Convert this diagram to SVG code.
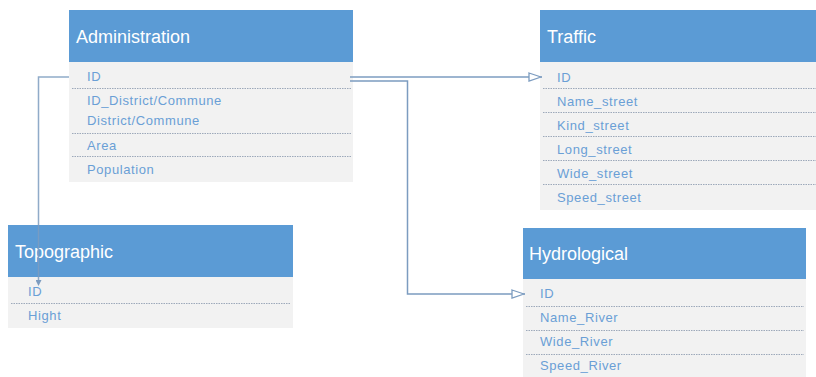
<svg xmlns="http://www.w3.org/2000/svg" width="816" height="377" viewBox="0 0 816 377">
<defs>
<style>
.hdr{fill:#5B9BD5}
.body{fill:#F2F2F2}
.ht{font-family:"Liberation Sans",Arial,sans-serif;font-size:18px;fill:#FFFFFF}
.rt{font-family:"Liberation Sans",Arial,sans-serif;font-size:13px;fill:#6A9FD6;letter-spacing:0.6px}
.sep{stroke:#9DA9BA;stroke-width:1;stroke-dasharray:1.5 1}
.conn{fill:none;stroke:#7C9CC0;stroke-width:1.5}
</style>
<marker id="open" viewBox="0 0 14 10" refX="14" refY="5" markerWidth="14" markerHeight="10" markerUnits="userSpaceOnUse" orient="auto">
<path d="M1,1 L13,5 L1,9 Z" fill="#FFFFFF" stroke="#7C9CC0" stroke-width="1.3"/>
</marker>
<marker id="small" viewBox="0 0 6 6" refX="3" refY="3" markerWidth="6" markerHeight="6" markerUnits="userSpaceOnUse" orient="auto">
<path d="M0,0 L6,3 L0,6 Z" fill="#7C9CC0"/>
</marker>
</defs>
<rect width="816" height="377" fill="#FFFFFF"/>
<g id="administration">
<rect class="body" x="69" y="62" width="284" height="120"/>
<rect class="hdr" x="69" y="10" width="284" height="52"/>
<text class="ht" x="76" y="43">Administration</text>
<text class="rt" x="87" y="81">ID</text>
<line class="sep" x1="72" y1="88.5" x2="351" y2="88.5"/>
<text class="rt" x="87" y="105">ID_District/Commune</text>
<text class="rt" x="87" y="125">District/Commune</text>
<line class="sep" x1="72" y1="133.5" x2="351" y2="133.5"/>
<text class="rt" x="87" y="150">Area</text>
<line class="sep" x1="72" y1="156.5" x2="351" y2="156.5"/>
<text class="rt" x="87" y="174">Population</text>
</g>
<g id="traffic">
<rect class="body" x="540" y="62" width="276" height="148"/>
<rect class="hdr" x="540" y="10" width="276" height="52"/>
<text class="ht" x="547" y="43">Traffic</text>
<text class="rt" x="557" y="82">ID</text>
<line class="sep" x1="543" y1="88.5" x2="816" y2="88.5"/>
<text class="rt" x="557" y="106">Name_street</text>
<line class="sep" x1="543" y1="112.5" x2="816" y2="112.5"/>
<text class="rt" x="557" y="130">Kind_street</text>
<line class="sep" x1="543" y1="136.5" x2="816" y2="136.5"/>
<text class="rt" x="557" y="154">Long_street</text>
<line class="sep" x1="543" y1="160.5" x2="816" y2="160.5"/>
<text class="rt" x="557" y="178">Wide_street</text>
<line class="sep" x1="543" y1="184.5" x2="816" y2="184.5"/>
<text class="rt" x="557" y="202">Speed_street</text>
</g>
<g id="topographic">
<rect class="body" x="8" y="277" width="285" height="51"/>
<rect class="hdr" x="8" y="225" width="285" height="52"/>
<text class="ht" x="15" y="258">Topographic</text>
<text class="rt" x="28" y="296">ID</text>
<line class="sep" x1="11" y1="303.5" x2="291" y2="303.5"/>
<text class="rt" x="28" y="320">Hight</text>
</g>
<g id="hydrological">
<rect class="body" x="523" y="279" width="283" height="98"/>
<rect class="hdr" x="523" y="228" width="283" height="51"/>
<text class="ht" x="529" y="260">Hydrological</text>
<text class="rt" x="540" y="298">ID</text>
<line class="sep" x1="526" y1="306.5" x2="804" y2="306.5"/>
<text class="rt" x="540" y="322">Name_River</text>
<line class="sep" x1="526" y1="330.5" x2="804" y2="330.5"/>
<text class="rt" x="540" y="346">Wide_River</text>
<line class="sep" x1="526" y1="354.5" x2="804" y2="354.5"/>
<text class="rt" x="540" y="370">Speed_River</text>
</g>
<g id="connectors">
<path class="conn" d="M350,77 L542,77" marker-end="url(#open)"/>
<path class="conn" d="M350,81 L407.5,81 L407.5,294 L525,294" marker-end="url(#open)"/>
<path class="conn" d="M69,77 L38.5,77 L38.5,283" stroke-opacity="0.85" marker-end="url(#small)"/>
</g>
</svg>
